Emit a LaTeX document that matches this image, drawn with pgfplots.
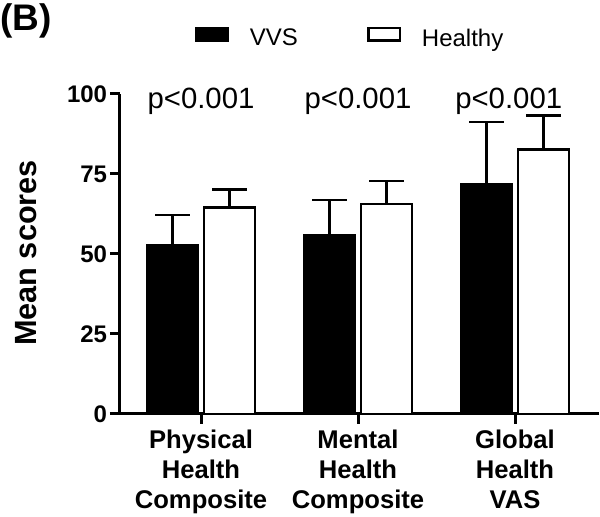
\documentclass[border=0pt]{standalone}
\usepackage{fontspec}
\setmainfont{Liberation Sans}
\usepackage{pgfplots}
\pgfplotsset{compat=1.18}
\begin{document}
\begin{tikzpicture}
\path[use as bounding box] (-90pt,-77.25pt) rectangle (360pt,310.5pt);
\begin{axis}[
  scale only axis, width=359.25pt, height=240pt,
  xmin=-0.516, xmax=2.535, ymin=0, ymax=100,
  axis x line=bottom, axis y line=left,
  axis line style={-, line width=2.25pt},
  ybar, bar width=38.25pt,
  xtick={0,1,2},
  xticklabels={{Physical\\Health\\Composite},{Mental\\Health\\Composite},{Global\\Health\\VAS}},
  ytick={0,25,50,75,100},
  tick align=outside, major tick length=7.5pt,
  tick style={line width=2.25pt, black},
  /pgf/number format/assume math mode=true,
  yticklabel style={font=\fontsize{18}{18}\selectfont\bfseries, inner sep=2pt},
  xticklabel style={font=\fontsize{19.2}{22.6}\selectfont\bfseries, align=center, inner sep=2pt, yshift=-2pt},
  clip=false,
  legend columns=2,
  legend image code/.code={\draw[#1,/tikz/.cd,line width=1.8pt] (0pt,-1.6pt) rectangle (23.7pt,7.85pt);},
  legend style={draw=none, fill=none, inner sep=0pt,
    at={(axis description cs:0.1566,1.177)}, anchor=west,
    font=\fontsize{18}{18}\selectfont,
    nodes={inner sep=0pt},
    /tikz/every odd column/.append style={column sep=15.5pt},
    /tikz/every even column/.append style={column sep=52pt}},
]
\addplot+[bar shift=-21.375pt, draw=black, fill=black, line width=1.8pt,
  error bars/.cd, y dir=plus, y explicit,
  error bar style={line width=2pt, black},
  error mark options={rotate=90, mark size=13pt, line width=2pt, black}]
  coordinates {(0,52.8) +- (0,9.4) (1,55.9) +- (0,11.0) (2,71.8) +- (0,19.4)};
\addplot+[bar shift=21.375pt, draw=black, fill=white, line width=1.8pt,
  error bars/.cd, y dir=plus, y explicit,
  error bar style={line width=2pt, black},
  error mark options={rotate=90, mark size=13pt, line width=2pt, black}]
  coordinates {(0,64.5) +- (0,5.6) (1,65.6) +- (0,7.2) (2,82.6) +- (0,10.6)};
\legend{VVS, Healthy}
\draw[line width=2.25pt] (axis cs:-0.58,0) -- (axis cs:-0.51,0);
\node[anchor=base, font=\fontsize{22}{22}\selectfont] at (axis cs:0,95.6) {p<0.001};
\node[anchor=base, font=\fontsize{22}{22}\selectfont] at (axis cs:1,95.6) {p<0.001};
\node[anchor=base, font=\fontsize{22}{22}\selectfont] at (axis cs:1.96,95.6) {p<0.001};
\end{axis}
\node[rotate=90, font=\fontsize{23}{23}\selectfont\bfseries] at (-70.5pt,120.75pt) {Mean scores};
\node[anchor=north west, inner sep=0pt, font=\fontsize{27.75}{27.75}\selectfont\bfseries] at (-90pt,308.25pt) {(B)};
\end{tikzpicture}
\end{document}
